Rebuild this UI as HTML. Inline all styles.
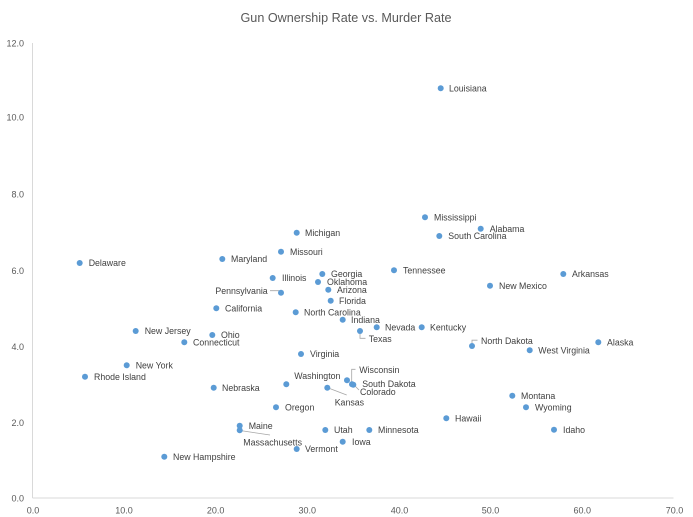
<!DOCTYPE html>
<html>
<head>
<meta charset="utf-8">
<style>
html,body{margin:0;padding:0;background:#fff;}
svg{display:block;}
text{font-family:"Liberation Sans",Arial,sans-serif;}
.t{font-size:8.8px;fill:#404040;}
.k{font-size:9px;fill:#595959;}
</style>
</head>
<body>
<svg width="693" height="517" viewBox="0 0 693 517" xmlns="http://www.w3.org/2000/svg">
<rect width="693" height="517" fill="#fff"/>
<text x="346" y="22" text-anchor="middle" font-size="13.3" fill="#595959" textLength="211" lengthAdjust="spacingAndGlyphs">Gun Ownership Rate vs. Murder Rate</text>

<!-- axes -->
<line x1="32.5" y1="43" x2="32.5" y2="498" stroke="#d9d9d9" stroke-width="1"/>
<line x1="32.5" y1="498" x2="673.5" y2="498" stroke="#d9d9d9" stroke-width="1"/>

<!-- y ticks -->
<g class="k" text-anchor="end">
<text x="24" y="46.3">12.0</text>
<text x="24" y="120.5">10.0</text>
<text x="24" y="197.5">8.0</text>
<text x="24" y="273.9">6.0</text>
<text x="24" y="349.9">4.0</text>
<text x="24" y="425.9">2.0</text>
<text x="24" y="501.5">0.0</text>
</g>
<!-- x ticks -->
<g class="k" text-anchor="middle">
<text x="33" y="513.3">0.0</text>
<text x="124" y="513.3">10.0</text>
<text x="215.7" y="513.3">20.0</text>
<text x="307.3" y="513.3">30.0</text>
<text x="399.5" y="513.3">40.0</text>
<text x="490.5" y="513.3">50.0</text>
<text x="582.3" y="513.3">60.0</text>
<text x="674.5" y="513.3">70.0</text>
</g>

<!-- leader lines -->
<g stroke="#a6a6a6" stroke-width="0.8" fill="none">
<path d="M270,290.7 H279 L281,292.5"/>
<path d="M360,333 V338.3 H365.5"/>
<path d="M472,344 V340.2 H477.5"/>
<path d="M351.7,382 V369.3 H355.5"/>
<path d="M355.5,386.5 L359,390"/>
<path d="M329,388.3 L346.7,395"/>
<path d="M240,430.5 L270,435"/>
</g>

<!-- dots -->
<g fill="#5b9bd5">
<circle cx="440.7" cy="88.3" r="3"/>
<circle cx="425" cy="217.3" r="3"/>
<circle cx="480.7" cy="228.7" r="3"/>
<circle cx="439.3" cy="236" r="3"/>
<circle cx="296.7" cy="232.7" r="3"/>
<circle cx="281" cy="251.7" r="3"/>
<circle cx="222.3" cy="259" r="3"/>
<circle cx="79.7" cy="263" r="3"/>
<circle cx="394" cy="270.3" r="3"/>
<circle cx="563.3" cy="274" r="3"/>
<circle cx="272.7" cy="278" r="3"/>
<circle cx="322.3" cy="274" r="3"/>
<circle cx="318" cy="282" r="3"/>
<circle cx="328.3" cy="289.7" r="3"/>
<circle cx="281" cy="292.7" r="3"/>
<circle cx="330.7" cy="300.7" r="3"/>
<circle cx="490" cy="285.7" r="3"/>
<circle cx="216.3" cy="308.3" r="3"/>
<circle cx="295.7" cy="312.3" r="3"/>
<circle cx="342.7" cy="319.7" r="3"/>
<circle cx="376.7" cy="327.3" r="3"/>
<circle cx="421.7" cy="327.3" r="3"/>
<circle cx="360" cy="331" r="3"/>
<circle cx="135.7" cy="331" r="3"/>
<circle cx="212.3" cy="335" r="3"/>
<circle cx="184.3" cy="342.3" r="3"/>
<circle cx="472" cy="346" r="3"/>
<circle cx="529.7" cy="350.3" r="3"/>
<circle cx="598.3" cy="342.3" r="3"/>
<circle cx="301" cy="354" r="3"/>
<circle cx="126.7" cy="365.3" r="3"/>
<circle cx="85" cy="376.7" r="3"/>
<circle cx="347" cy="380.3" r="3"/>
<circle cx="286.3" cy="384.3" r="3"/>
<circle cx="352" cy="384.3" r="3"/>
<circle cx="353.3" cy="384.7" r="3"/>
<circle cx="327.3" cy="387.7" r="3"/>
<circle cx="213.7" cy="387.7" r="3"/>
<circle cx="512.3" cy="395.7" r="3"/>
<circle cx="276" cy="407.3" r="3"/>
<circle cx="526" cy="407.3" r="3"/>
<circle cx="446.3" cy="418.3" r="3"/>
<circle cx="239.7" cy="425.7" r="3"/>
<circle cx="239.7" cy="430.3" r="3"/>
<circle cx="325.3" cy="430" r="3"/>
<circle cx="369.3" cy="430" r="3"/>
<circle cx="554" cy="429.7" r="3"/>
<circle cx="342.7" cy="441.7" r="3"/>
<circle cx="296.7" cy="449" r="3"/>
<circle cx="164.3" cy="456.7" r="3"/>
</g>

<!-- labels -->
<g class="t">
<text x="449" y="91.5">Louisiana</text>
<text x="434" y="220.5">Mississippi</text>
<text x="489.7" y="231.9">Alabama</text>
<text x="448.3" y="239.2">South Carolina</text>
<text x="305" y="235.9">Michigan</text>
<text x="290" y="254.9">Missouri</text>
<text x="231" y="262.2">Maryland</text>
<text x="88.7" y="266.2">Delaware</text>
<text x="403" y="273.5">Tennessee</text>
<text x="572" y="277.2">Arkansas</text>
<text x="282" y="281.2">Illinois</text>
<text x="331" y="277.2">Georgia</text>
<text x="327" y="285.2">Oklahoma</text>
<text x="337" y="292.9">Arizona</text>
<text x="267.7" y="294.2" text-anchor="end">Pennsylvania</text>
<text x="339" y="303.9">Florida</text>
<text x="499" y="288.9">New Mexico</text>
<text x="225" y="311.5">California</text>
<text x="304" y="315.5">North Carolina</text>
<text x="351" y="322.9">Indiana</text>
<text x="385" y="330.5">Nevada</text>
<text x="430" y="330.5">Kentucky</text>
<text x="368.7" y="341.9">Texas</text>
<text x="144.7" y="334.2">New Jersey</text>
<text x="221" y="338.2">Ohio</text>
<text x="193" y="345.5">Connecticut</text>
<text x="481" y="343.9">North Dakota</text>
<text x="538.3" y="353.5">West Virginia</text>
<text x="607" y="345.5">Alaska</text>
<text x="310" y="357.2">Virginia</text>
<text x="135.7" y="368.5">New York</text>
<text x="94" y="379.9">Rhode Island</text>
<text x="359.3" y="372.8">Wisconsin</text>
<text x="294.3" y="378.9">Washington</text>
<text x="362.3" y="387.2">South Dakota</text>
<text x="360" y="394.9">Colorado</text>
<text x="334.7" y="405.5">Kansas</text>
<text x="222" y="390.9">Nebraska</text>
<text x="521" y="398.9">Montana</text>
<text x="285" y="410.5">Oregon</text>
<text x="535" y="410.5">Wyoming</text>
<text x="455" y="421.5">Hawaii</text>
<text x="248.7" y="429.2">Maine</text>
<text x="243.3" y="445.5">Massachusetts</text>
<text x="334" y="433.2">Utah</text>
<text x="378" y="433.2">Minnesota</text>
<text x="563" y="432.9">Idaho</text>
<text x="352" y="444.9">Iowa</text>
<text x="305" y="452.2">Vermont</text>
<text x="173" y="459.9">New Hampshire</text>
</g>
</svg>
</body>
</html>
